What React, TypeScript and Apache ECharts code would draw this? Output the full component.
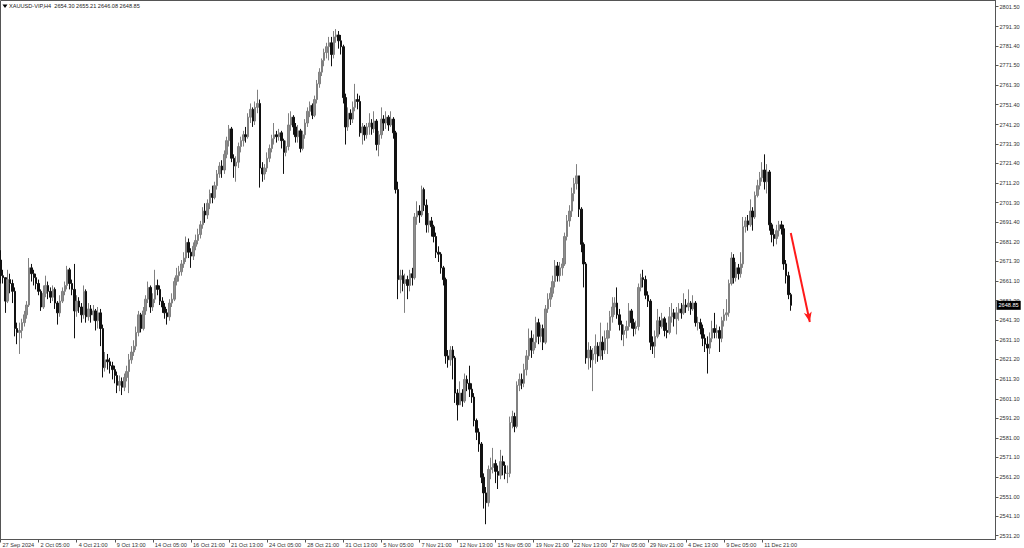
import { useEffect, useRef } from 'react';
import * as echarts from 'echarts';

const SYMBOL = 'XAUUSD-VIP,H4';
const FIRST_OPEN = 2672;

const CLOSE = [
  2664, 2663, 2651, 2662, 2660, 2656, 2637, 2635, 2636, 2640,
  2644, 2649, 2668, 2665, 2663, 2660, 2656, 2648, 2655, 2659,
  2656, 2653, 2657, 2650, 2645, 2651, 2656, 2659, 2667, 2660,
  2657, 2646, 2651, 2648, 2644, 2656, 2643, 2647, 2644, 2646,
  2641, 2645, 2637, 2617, 2621, 2620, 2618, 2616, 2613, 2608,
  2610, 2607, 2612, 2615, 2621, 2625, 2628, 2635, 2644, 2637,
  2646, 2652, 2658, 2648, 2652, 2659, 2657, 2651, 2648, 2645,
  2643, 2650, 2652, 2661, 2664, 2666, 2670, 2673, 2681, 2676,
  2674, 2679, 2682, 2685, 2690, 2697, 2695, 2701, 2706, 2704,
  2710, 2716, 2720, 2718, 2726, 2733, 2739, 2724, 2720, 2722,
  2730, 2733, 2736, 2735, 2745, 2749, 2743, 2750, 2752, 2719,
  2716, 2719, 2724, 2729, 2734, 2736, 2735, 2737, 2733, 2727,
  2730, 2741, 2745, 2740, 2735, 2738, 2729, 2736, 2742, 2748,
  2751, 2746, 2754, 2762, 2768, 2774, 2778, 2781, 2783, 2777,
  2786, 2787, 2784, 2781, 2755, 2740, 2747, 2744, 2750, 2754,
  2753, 2737, 2740, 2736, 2740, 2742, 2739, 2743, 2731, 2736,
  2744, 2742, 2745, 2741, 2744, 2737, 2708, 2662, 2664, 2660,
  2662, 2659, 2665, 2663, 2694, 2697, 2695, 2708, 2700, 2690,
  2692, 2689, 2684, 2676, 2675, 2668, 2662, 2623, 2621, 2626,
  2622, 2604, 2598, 2604, 2600, 2611, 2609, 2606, 2602, 2590,
  2584, 2578, 2561, 2553, 2548, 2565, 2566, 2568, 2564, 2562,
  2569, 2567, 2563, 2563, 2589, 2592, 2587, 2608, 2611, 2609,
  2616, 2623, 2632, 2626, 2630, 2640, 2633, 2637, 2630, 2647,
  2652, 2655, 2661, 2669, 2664, 2668, 2670, 2684, 2692, 2697,
  2706, 2711, 2715, 2698, 2680, 2670, 2622, 2626, 2621, 2624,
  2628, 2623, 2630, 2626, 2632, 2636, 2643, 2648, 2650, 2644,
  2639, 2634, 2636, 2638, 2646, 2640, 2637, 2638, 2658, 2663,
  2662, 2654, 2651, 2630, 2628, 2633, 2641, 2638, 2642, 2636,
  2635, 2643, 2645, 2642, 2645, 2647, 2645, 2649, 2648, 2650,
  2647, 2650, 2640, 2640, 2637, 2632, 2629, 2627, 2632, 2637,
  2635, 2636, 2632, 2641, 2644, 2645, 2660, 2673, 2663, 2668,
  2665, 2670, 2689, 2692, 2690, 2697, 2694, 2705, 2710, 2714,
  2718, 2712, 2717, 2690, 2685, 2683, 2687, 2690, 2688, 2670,
  2664, 2654.3, 2648.85,
];

const HIGH = [
  2677, 2667, 2662, 2667, 2665, 2662, 2658, 2640, 2640, 2642,
  2646, 2651, 2673, 2670, 2667, 2665, 2662, 2657, 2659, 2664,
  2661, 2658, 2659, 2658, 2651, 2654, 2658, 2661, 2669, 2668,
  2662, 2670, 2654, 2653, 2650, 2659, 2657, 2650, 2649, 2649,
  2647, 2648, 2647, 2639, 2625, 2624, 2622, 2620, 2618, 2615,
  2613, 2612, 2614, 2618, 2624, 2628, 2631, 2638, 2646, 2645,
  2648, 2654, 2661, 2659, 2655, 2667, 2662, 2659, 2653, 2650,
  2647, 2652, 2655, 2663, 2668, 2669, 2672, 2676, 2684, 2683,
  2678, 2681, 2685, 2688, 2692, 2699, 2701, 2703, 2708, 2710,
  2712, 2718, 2722, 2723, 2728, 2735, 2741, 2740, 2726, 2725,
  2732, 2735, 2738, 2740, 2747, 2752, 2750, 2753, 2759, 2754,
  2722, 2721, 2727, 2731, 2736, 2742, 2738, 2739, 2738, 2734,
  2733, 2747, 2748, 2746, 2742, 2741, 2739, 2738, 2744, 2750,
  2753, 2752, 2756, 2764, 2770, 2775, 2780, 2783, 2786, 2786,
  2789, 2790, 2789, 2787, 2782, 2757, 2750, 2749, 2753, 2762,
  2757, 2756, 2742, 2741, 2742, 2747, 2744, 2748, 2744, 2738,
  2750, 2746, 2748, 2746, 2748, 2745, 2738, 2712, 2667, 2667,
  2665, 2664, 2667, 2668, 2696, 2702, 2700, 2710, 2709, 2703,
  2696, 2694, 2690, 2686, 2679, 2676, 2669, 2663, 2626, 2628,
  2628, 2623, 2606, 2610, 2606, 2614, 2613, 2618, 2609, 2604,
  2591, 2586, 2579, 2563, 2556, 2567, 2571, 2576, 2570, 2567,
  2575, 2572, 2569, 2567, 2592, 2595, 2594, 2610, 2614, 2614,
  2619, 2626, 2637, 2636, 2634, 2643, 2642, 2639, 2639, 2649,
  2655, 2658, 2664, 2672, 2671, 2671, 2673, 2686, 2695, 2700,
  2709, 2714, 2721, 2714, 2699, 2681, 2671, 2630, 2628, 2627,
  2634, 2630, 2640, 2633, 2636, 2640, 2646, 2653, 2653, 2658,
  2647, 2641, 2639, 2641, 2650, 2647, 2642, 2641, 2660, 2665,
  2667, 2664, 2656, 2652, 2633, 2636, 2647, 2643, 2645, 2643,
  2640, 2648, 2650, 2647, 2648, 2650, 2650, 2655, 2652, 2657,
  2651, 2654, 2651, 2643, 2642, 2639, 2634, 2633, 2635, 2641,
  2645, 2639, 2638, 2643, 2647, 2652, 2662, 2676, 2675, 2671,
  2670, 2676, 2694, 2694, 2695, 2703, 2699, 2707, 2713, 2717,
  2722, 2726, 2721, 2718, 2691, 2688, 2690, 2692, 2692, 2690,
  2672, 2666, 2655.21,
];

const LOW = [
  2660, 2660, 2645, 2650, 2655, 2650, 2633, 2629, 2624, 2632,
  2638, 2642, 2648, 2661, 2659, 2657, 2654, 2646, 2647, 2653,
  2652, 2650, 2651, 2647, 2639, 2643, 2650, 2654, 2657, 2657,
  2654, 2632, 2643, 2645, 2640, 2642, 2640, 2641, 2640, 2641,
  2636, 2637, 2628, 2612, 2615, 2616, 2614, 2611, 2609, 2604,
  2605, 2603, 2605, 2610, 2604, 2619, 2623, 2626, 2633, 2635,
  2636, 2644, 2650, 2645, 2646, 2650, 2654, 2649, 2645, 2642,
  2639, 2641, 2648, 2651, 2659, 2661, 2664, 2668, 2671, 2673,
  2668, 2672, 2677, 2680, 2683, 2688, 2691, 2693, 2698, 2701,
  2703, 2708, 2714, 2714, 2716, 2724, 2730, 2722, 2714, 2712,
  2719, 2727, 2730, 2732, 2734, 2742, 2740, 2741, 2747, 2709,
  2712, 2713, 2717, 2722, 2727, 2731, 2732, 2733, 2729, 2716,
  2725, 2728, 2738, 2736, 2732, 2732, 2727, 2728, 2734, 2740,
  2745, 2744, 2745, 2752, 2760, 2766, 2771, 2775, 2774, 2771,
  2775, 2783, 2780, 2777, 2752, 2731, 2738, 2741, 2742, 2748,
  2749, 2735, 2731, 2733, 2734, 2736, 2736, 2737, 2728, 2725,
  2734, 2738, 2739, 2738, 2740, 2734, 2706, 2652, 2655, 2656,
  2645, 2652, 2656, 2659, 2662, 2690, 2691, 2694, 2697, 2686,
  2686, 2684, 2681, 2673, 2671, 2665, 2659, 2619, 2617, 2618,
  2611, 2599, 2590, 2598, 2597, 2599, 2605, 2602, 2599, 2587,
  2580, 2574, 2558, 2545, 2537, 2546, 2560, 2563, 2558, 2555,
  2560, 2562, 2560, 2558, 2561, 2586, 2584, 2586, 2605, 2606,
  2607, 2613, 2621, 2622, 2624, 2627, 2629, 2630, 2626, 2629,
  2645, 2648, 2653, 2658, 2661, 2661, 2664, 2669, 2682, 2689,
  2694, 2702, 2708, 2694, 2676, 2658, 2619, 2616, 2617, 2605,
  2619, 2620, 2621, 2621, 2624, 2624, 2632, 2640, 2644, 2642,
  2636, 2631, 2628, 2632, 2636, 2637, 2633, 2634, 2636, 2656,
  2658, 2652, 2648, 2626, 2624, 2622, 2632, 2634, 2637, 2633,
  2632, 2634, 2640, 2638, 2634, 2641, 2642, 2644, 2645, 2646,
  2644, 2646, 2638, 2636, 2634, 2628, 2625, 2614, 2624, 2630,
  2632, 2632, 2625, 2630, 2638, 2641, 2643, 2659, 2660, 2661,
  2662, 2663, 2668, 2686, 2687, 2689, 2687, 2693, 2704, 2708,
  2712, 2708, 2706, 2687, 2681, 2679, 2680, 2684, 2685, 2667,
  2660, 2652, 2646.08,
];

const Y_TICKS = [
  2801.5, 2791.3, 2781.4, 2771.5, 2761.3, 2751.4, 2741.2, 2731.3, 2721.4, 2711.2,
  2701.3, 2691.4, 2681.2, 2671.3, 2661.1, 2651.2, 2641.3, 2631.1, 2621.2, 2611.3,
  2601.1, 2591.2, 2581.0, 2571.1, 2561.2, 2551.0, 2541.1, 2531.2,
];

const X_TICK_LABELS = [
  '27 Sep 2024', '2 Oct 05:00', '4 Oct 21:00', '9 Oct 13:00', '14 Oct 05:00',
  '16 Oct 21:00', '21 Oct 13:00', '24 Oct 05:00', '28 Oct 21:00', '31 Oct 13:00',
  '5 Nov 05:00', '7 Nov 21:00', '12 Nov 13:00', '15 Nov 05:00', '19 Nov 21:00',
  '22 Nov 13:00', '27 Nov 05:00', '29 Nov 21:00', '4 Dec 13:00', '9 Dec 05:00',
  '11 Dec 21:00',
];
const TICK_EVERY = 16;
const FUTURE_SLOTS = 86;

const Y_MIN = 2529.2;
const Y_MAX = 2804.6;

const ARROW_FROM = ['332', 2685.8];
const ARROW_TO = ['340', 2640.3];

const FONT = 'Liberation Sans, Arial, sans-serif';

export default function App() {
  const ref = useRef<HTMLDivElement>(null);

  useEffect(() => {
    const chart = echarts.init(ref.current!, null, { renderer: 'svg' });
    const n = CLOSE.length;
    const cats = Array.from({ length: n + FUTURE_SLOTS }, (_, i) => String(i));
    const candles = CLOSE.map((c, i) => {
      const o = i === 0 ? FIRST_OPEN : CLOSE[i - 1];
      return [o, c, Math.min(LOW[i], o, c), Math.max(HIGH[i], o, c)];
    });
    const last = candles[n - 1];
    const fmt = (v: number) => v.toFixed(2);
    const lastTick = (X_TICK_LABELS.length - 1) * TICK_EVERY;
    const showTick = (i: number) => i % TICK_EVERY === 0 && i <= lastTick;

    chart.setOption({
      animation: false,
      backgroundColor: '#ffffff',
      title: {
        text: `${SYMBOL}  ${fmt(last[0])} ${fmt(last[3])} ${fmt(last[2])} ${fmt(last[1])}`,
        left: 9,
        top: 3,
        padding: 0,
        textStyle: { fontSize: 5.6, fontWeight: 'normal', color: '#222', fontFamily: FONT },
      },
      graphic: [
        {
          type: 'polygon',
          shape: { points: [[2.5, 4.5], [7.5, 4.5], [5, 8]] },
          style: { fill: '#000' },
          z: 10,
        },
      ],
      grid: {
        left: 0.5,
        top: 0.5,
        right: 28.5,
        bottom: 8.5,
        containLabel: false,
        outerBoundsMode: 'none',
        show: true,
        borderColor: '#555',
        borderWidth: 1,
        backgroundColor: '#fff',
      },
      xAxis: {
        type: 'category',
        data: cats,
        boundaryGap: false,
        axisLine: { show: true, lineStyle: { color: '#555', width: 1 } },
        axisTick: {
          show: true,
          interval: (i: number) => showTick(i),
          length: 3,
          lineStyle: { color: '#555' },
        },
        axisLabel: {
          show: true,
          interval: (i: number) => showTick(i),
          formatter: (_v: string, i: number) => X_TICK_LABELS[Math.round(i / TICK_EVERY)] ?? '',
          align: 'left',
          margin: 2,
          padding: [0, 0, 0, 2],
          fontSize: 5.6,
          color: '#333',
          fontFamily: FONT,
        },
        splitLine: { show: false },
      },
      yAxis: {
        type: 'value',
        position: 'right',
        min: Y_MIN,
        max: Y_MAX,
        axisLine: { show: true, lineStyle: { color: '#555', width: 1 } },
        axisTick: {
          show: true,
          length: 3,
          customValues: Y_TICKS,
          lineStyle: { color: '#555' },
        },
        axisLabel: {
          show: true,
          customValues: Y_TICKS,
          formatter: (v: number) => fmt(v),
          margin: 4,
          fontSize: 5.6,
          color: '#333',
          fontFamily: FONT,
        },
        splitLine: { show: false },
      },
      series: [
        {
          type: 'candlestick',
          data: candles,
          barWidth: 2,
          clip: false,
          itemStyle: {
            color: '#8e8e8e',
            color0: '#111111',
            borderColor: '#808080',
            borderColor0: '#111111',
            borderWidth: 1,
          },
          markLine: {
            silent: true,
            symbol: ['none', 'none'],
            animation: false,
            data: [
              {
                yAxis: last[1],
                lineStyle: { color: 'rgba(0,0,0,0)', width: 0 },
                label: {
                  show: true,
                  position: 'end',
                  distance: 1,
                  formatter: () => fmt(last[1]),
                  backgroundColor: '#000',
                  color: '#fff',
                  fontSize: 5.6,
                  fontFamily: FONT,
                  padding: [1.5, 2, 1.5, 2],
                },
              },
              [
                {
                  coord: ARROW_FROM,
                  symbol: 'none',
                  lineStyle: { color: '#ff1a1a', width: 2, type: 'solid', opacity: 1 },
                  label: { show: false },
                },
                {
                  coord: ARROW_TO,
                  symbol: 'arrow',
                  symbolSize: [6, 10],
                  lineStyle: { color: '#ff1a1a', width: 2, type: 'solid', opacity: 1 },
                  label: { show: false },
                },
              ],
            ],
          },
        },
      ],
    });

    return () => chart.dispose();
  }, []);

  return (
    <div
      ref={ref}
      style={{ position: 'absolute', left: 0, top: 0, width: 1024, height: 548, background: '#fff' }}
    />
  );
}
